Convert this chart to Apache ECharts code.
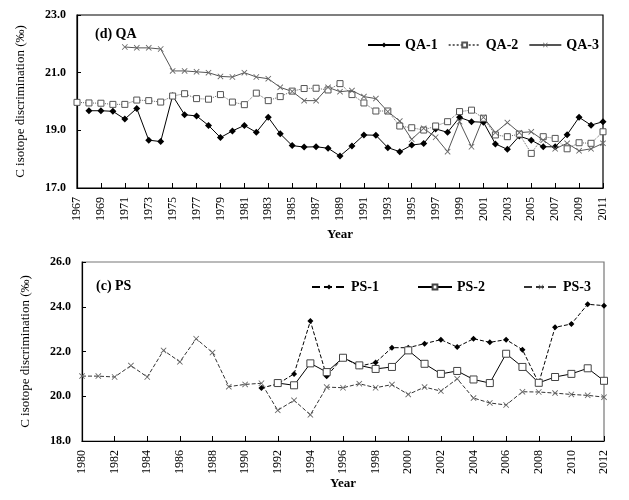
<!DOCTYPE html>
<html><head><meta charset="utf-8">
<script src="https://cdn.jsdelivr.net/npm/echarts@6/dist/echarts.min.js"></script>
<style>html,body{margin:0;padding:0;background:#fff}#c{width:629px;height:500px}</style>
</head><body><div id="c"></div>
<script>
var yearsQA = ['1967','1968','1969','1970','1971','1972','1973','1974','1975','1976','1977','1978','1979','1980','1981','1982','1983','1984','1985','1986','1987','1988','1989','1990','1991','1992','1993','1994','1995','1996','1997','1998','1999','2000','2001','2002','2003','2004','2005','2006','2007','2008','2009','2010','2011'];
var qa1 = [null,19.68,19.68,19.66,19.39,19.76,18.66,18.61,20.2,19.54,19.5,19.17,18.75,18.98,19.17,18.93,19.45,18.88,18.47,18.42,18.43,18.38,18.11,18.46,18.84,18.83,18.4,18.26,18.49,18.54,19.05,18.93,19.45,19.3,19.28,18.53,18.34,18.8,18.66,18.43,18.43,18.85,19.45,19.18,19.3];
var qa2 = [19.97,19.95,19.94,19.9,19.9,20.05,20.03,19.98,20.19,20.27,20.1,20.08,20.24,19.98,19.89,20.29,20.03,20.17,20.36,20.45,20.46,20.4,20.62,20.24,19.95,19.67,19.67,19.15,19.09,19.01,19.15,19.3,19.65,19.7,19.42,18.84,18.78,18.87,18.2,18.78,18.72,18.36,18.57,18.55,18.95];
var qa3 = [null,null,null,null,21.89,21.86,21.86,21.82,21.06,21.06,21.03,21.0,20.87,20.85,21.0,20.85,20.79,20.49,20.35,20.03,20.03,20.49,20.34,20.38,20.17,20.1,19.65,19.32,18.69,19.07,18.76,18.26,19.3,18.43,19.45,18.92,19.27,18.92,18.95,18.66,18.36,18.55,18.29,18.36,18.55];

var yearsPS = ['1980','1981','1982','1983','1984','1985','1986','1987','1988','1989','1990','1991','1992','1993','1994','1995','1996','1997','1998','1999','2000','2001','2002','2003','2004','2005','2006','2007','2008','2009','2010','2011','2012'];
var ps1 = [null,null,null,null,null,null,null,null,null,null,null,20.37,20.55,21.0,23.36,20.89,21.74,21.34,21.51,22.17,22.17,22.35,22.53,22.2,22.57,22.41,22.53,22.08,20.59,23.08,23.23,24.11,24.05];
var ps2 = [null,null,null,null,null,null,null,null,null,null,null,null,20.59,20.49,21.47,21.08,21.72,21.38,21.22,21.31,22.05,21.45,21.0,21.13,20.75,20.59,21.9,21.31,20.6,20.86,21.0,21.25,20.69];
var ps3 = [20.9,20.9,20.86,21.37,20.86,22.05,21.54,22.57,21.95,20.43,20.53,20.58,19.37,19.82,19.17,20.41,20.38,20.56,20.38,20.52,20.08,20.41,20.23,20.78,19.92,19.7,19.61,20.2,20.19,20.14,20.08,20.04,19.96];

var qaTicks = [17, 19, 21, 23];
var psTicks = [18, 20, 22, 24, 26];

var SERIF = '"Liberation Serif","DejaVu Serif",serif';
var XSYM = 'path://M0,1L1,0L5,4L9,0L10,1L6,5L10,9L9,10L5,6L1,10L0,9L4,5Z';

var chart = echarts.init(document.getElementById('c'));
function xAxis(idx, data, nameGap) {
  return {
    type: 'category', gridIndex: idx, data: data, boundaryGap: false,
    name: 'Year', nameLocation: 'middle', nameGap: nameGap, nameMoveOverlap: false,
    nameTextStyle: {fontFamily: SERIF, fontWeight: 'bold', fontSize: 13, color: '#000', verticalAlign: 'top'},
    axisLine: {lineStyle: {color: '#000', width: 1.2}},
    axisTick: {inside: true, interval: 1, length: 5, lineStyle: {color: '#000'}},
    axisLabel: {interval: 1, rotate: 90, fontFamily: SERIF, fontSize: 12, color: '#000', margin: 9},
    splitLine: {show: false}
  };
}
function yAxis(idx, ticks) {
  return {
    type: 'value', gridIndex: idx, min: ticks[0], max: ticks[ticks.length - 1], interval: 2,
    name: 'C isotope discrimination (‰)', nameLocation: 'middle', nameGap: 50, nameMoveOverlap: false,
    nameTextStyle: {fontFamily: SERIF, fontWeight: 'normal', fontSize: 13, color: '#000'},
    axisLine: {show: true, lineStyle: {color: '#000', width: 1.2}},
    axisTick: {show: true, inside: true, length: 4, lineStyle: {color: '#000'}},
    axisLabel: {fontFamily: SERIF, fontWeight: 'bold', fontSize: 12, color: '#000', margin: 11,
      formatter: function (v) { return v.toFixed(1); }},
    splitLine: {show: false}
  };
}
function ser(name, data, xi, lineType, lineColor, symbol, size, fill, border) {
  return {
    name: name, type: 'line', xAxisIndex: xi, yAxisIndex: xi, data: data,
    symbol: symbol, symbolSize: size, showSymbol: true, connectNulls: false,
    lineStyle: {color: lineColor, width: 1, type: lineType},
    itemStyle: {color: fill, borderColor: border, borderWidth: symbol === 'rect' ? 1 : 0},
    emphasis: {disabled: true}, animation: false
  };
}
chart.setOption({
  animation: false,
  grid: [
    {left: 77, right: 26, top: 15, height: 173, show: true, borderColor: '#000', borderWidth: 1.2, backgroundColor: 'transparent'},
    {left: 82, right: 25, top: 262, height: 179, show: true, borderColor: '#777', borderWidth: 1.2, backgroundColor: 'transparent'}
  ],
  title: [
    {text: '(d) QA', left: 90, top: 22, textStyle: {fontFamily: SERIF, fontWeight: 'bold', fontSize: 14, color: '#000'}},
    {text: '(c) PS', left: 91, top: 274, textStyle: {fontFamily: SERIF, fontWeight: 'bold', fontSize: 14, color: '#000'}}
  ],
  legend: [
    {data: ['QA-1', 'QA-2', 'QA-3'], left: 362, top: 33, itemWidth: 32, itemHeight: 6, itemGap: 10,
      textStyle: {fontFamily: SERIF, fontWeight: 'bold', fontSize: 14, color: '#000'}},
    {data: ['PS-1', 'PS-2', 'PS-3'], left: 306, top: 275, itemWidth: 34, itemHeight: 6, itemGap: 38,
      textStyle: {fontFamily: SERIF, fontWeight: 'bold', fontSize: 14, color: '#000'}}
  ],
  xAxis: [xAxis(0, yearsQA, 40), xAxis(1, yearsPS, 36)],
  yAxis: [yAxis(0, qaTicks), yAxis(1, psTicks)],
  series: [
    ser('QA-1', qa1, 0, 'solid', '#000', 'diamond', 7, '#000', '#000'),
    ser('QA-2', qa2, 0, 'dotted', '#666', 'rect', 6, '#fff', '#555'),
    ser('QA-3', qa3, 0, 'solid', '#555', XSYM, 6, '#666', '#666'),
    ser('PS-1', ps1, 1, 'dashed', '#000', 'diamond', 6, '#000', '#000'),
    ser('PS-2', ps2, 1, 'solid', '#000', 'rect', 7, '#fff', '#444'),
    ser('PS-3', ps3, 1, 'dashed', '#333', XSYM, 6, '#666', '#666')
  ]
});
</script>
</body></html>
